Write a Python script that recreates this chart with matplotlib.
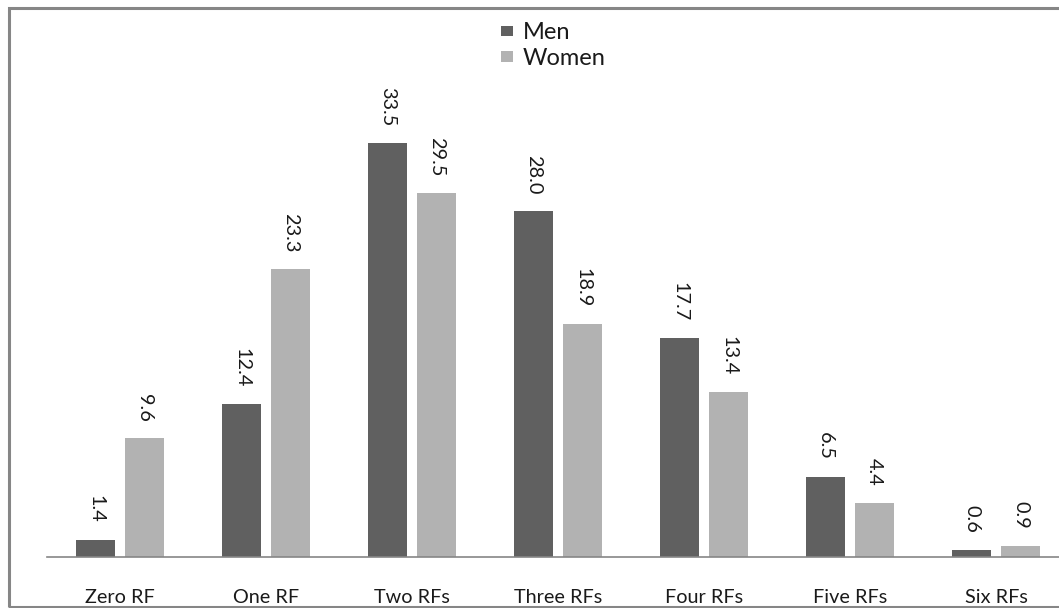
import matplotlib
matplotlib.use("Agg")
import matplotlib.pyplot as plt
import numpy as np
from matplotlib.patches import Rectangle

categories = ["Zero RF", "One RF", "Two RFs", "Three RFs", "Four RFs", "Five RFs", "Six RFs"]
men = [1.4, 12.4, 33.5, 28.0, 17.7, 6.5, 0.6]
women = [9.6, 23.3, 29.5, 18.9, 13.4, 4.4, 0.9]

plt.rcParams['font.family'] = ['Lato', 'DejaVu Sans']

W, H = 1059, 608
fig = plt.figure(figsize=(W / 100, H / 100), dpi=100)
left, right = 47, 1069
base, top = 557, 63
ax = fig.add_axes([left / W, (H - base) / H, (right - left) / W, (base - top) / H])

x = np.arange(len(categories))
bw = 0.267
off = 0.168
b1 = ax.bar(x - off, men, bw, color="#606060", label="Men")
b2 = ax.bar(x + off, women, bw, color="#b2b2b2", label="Women")

for bars, vals in ((b1, men), (b2, women)):
    for r, v in zip(bars, vals):
        ax.annotate(f"{v:.1f}", (r.get_x() + r.get_width() / 2, r.get_height()),
                    xytext=(0, 12), textcoords="offset points",
                    rotation=-90, ha="center", va="bottom",
                    fontsize=14.3, color="#1a1a1a")

ax.set_xlim(-0.5, len(categories) - 0.5)
ax.set_ylim(0, 40)
ax.set_xticks(x)
ax.set_xticklabels(categories, fontsize=14.3, color="#1a1a1a")
ax.tick_params(axis="x", length=0, pad=23)
ax.set_yticks([])
for s in ("left", "right", "top"):
    ax.spines[s].set_visible(False)
ax.spines["bottom"].set_color("#868686")
ax.spines["bottom"].set_linewidth(1.2)

leg = fig.legend(loc="upper left", bbox_to_anchor=(492 / W, 1 - 13 / H), frameon=False,
                 fontsize=17, handlelength=0.5, handleheight=0.33, handletextpad=0.4,
                 labelspacing=0.2, borderaxespad=0)
for t in leg.get_texts():
    t.set_color("#1a1a1a")

fig.patches.append(Rectangle((9 / W, 1 / H), (W + 20) / W, (H - 9) / H,
                             transform=fig.transFigure, fill=False,
                             edgecolor="#868686", linewidth=2.2, zorder=10))

fig.savefig("out.png", dpi=100)
